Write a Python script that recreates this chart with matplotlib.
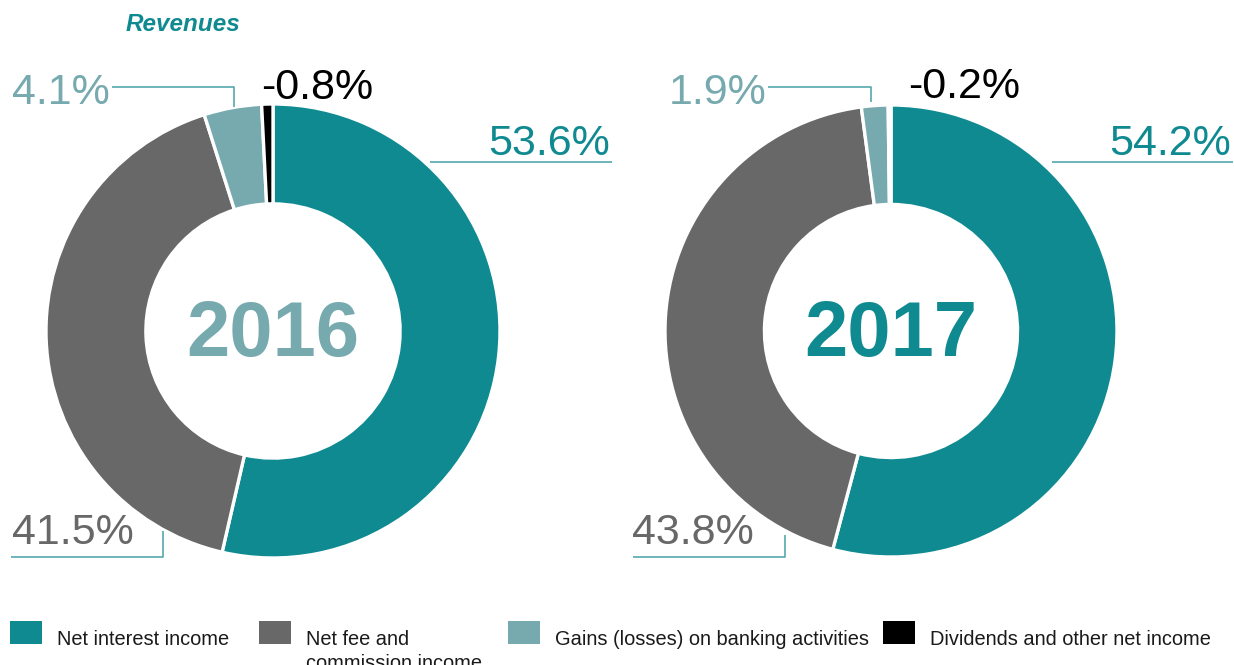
import matplotlib.pyplot as plt
import numpy as np

# data
categories = ['Net interest income', 'Net fee and\ncommission income',
              'Gains (losses) on banking activities', 'Dividends and other net income']
years = ['2016', '2017']
shares_2016 = [53.6, 41.5, 4.1, -0.8]
shares_2017 = [54.2, 43.8, 1.9, -0.2]

teal = '#0f8a91'
grey = '#686868'
light = '#76aaaf'
black = '#000000'
colours = [teal, grey, light, black]
label_colours = [teal, grey, light, black]

plt.rcParams['font.family'] = ['Liberation Sans', 'DejaVu Sans']

W, H = 1234, 665
fig = plt.figure(figsize=(W / 100, H / 100), dpi=100)


def donut(cx, cy, r, values, year, year_colour):
    ax = fig.add_axes([(cx - r) / W, (H - cy - r) / H, 2 * r / W, 2 * r / H])
    ax.pie(np.abs(values), colors=colours, startangle=90, counterclock=False,
           radius=1, wedgeprops=dict(width=0.44, edgecolor='white', linewidth=2.4))
    ax.set_xlim(-1, 1)
    ax.set_ylim(-1, 1)
    ax.text(0, -0.02, year, ha='center', va='center', fontsize=56,
            fontweight='bold', color=year_colour)


donut(273, 331, 227, shares_2016, years[0], light)
donut(891, 331, 226, shares_2017, years[1], teal)

# overlay in pixel coordinates for labels, leader lines and legend
ov = fig.add_axes([0, 0, 1, 1])
ov.set_xlim(0, W)
ov.set_ylim(H, 0)
ov.axis('off')

ov.text(126, 31, 'Revenues', fontsize=17.5, fontweight='bold', style='italic',
        color=teal, va='baseline')


def fmt(v):
    return f'{v:.1f}%'


# (text x, baseline y, alignment, leader line points) per slice
layout_2016 = [
    (610, 155, 'right', [(430, 162), (612, 162)]),
    (12, 544, 'left', [(11, 557), (163, 557), (163, 531)]),
    (12, 104, 'left', [(112, 87), (234, 87), (234, 107)]),
    (261, 99, 'left', None),
]
layout_2017 = [
    (1231, 155, 'right', [(1052, 162), (1233, 162)]),
    (632, 544, 'left', [(633, 557), (785, 557), (785, 535)]),
    (669, 104, 'left', [(768, 87), (871, 87), (871, 102)]),
    (908, 98, 'left', None),
]

for values, layout in [(shares_2016, layout_2016), (shares_2017, layout_2017)]:
    for v, c, (tx, ty, ha, pts) in zip(values, label_colours, layout):
        ov.text(tx, ty, fmt(v), fontsize=31, color=c, ha=ha, va='baseline')
        if pts:
            xs, ys = zip(*pts)
            ov.plot(xs, ys, color='#45a1a7', lw=1.1, solid_capstyle='butt')

# legend (second line of the fee label runs off the bottom, as in the source)
legend_x = [10, 259, 508, 883]
for x, c, name in zip(legend_x, colours, categories):
    ov.add_patch(plt.Rectangle((x, 621), 32, 23, color=c, lw=0))
    ov.text(x + 47, 630, name, fontsize=14.4, color='#1a1a1a', va='top',
            linespacing=1.33)

fig.savefig('out.png', dpi=100)
